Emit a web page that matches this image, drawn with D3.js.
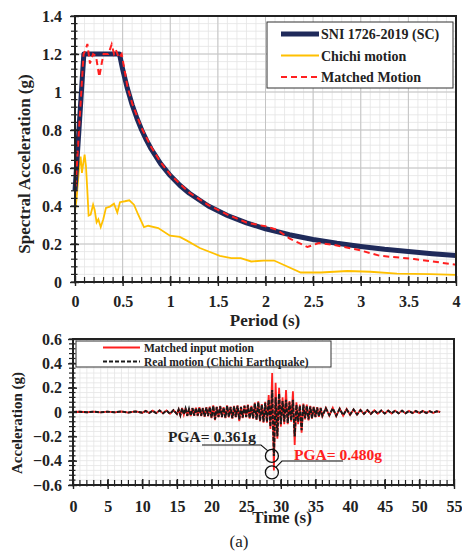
<!DOCTYPE html>
<html>
<head>
<meta charset="utf-8">
<script src="https://cdn.jsdelivr.net/npm/d3@7"></script>
<style>
  body { margin: 0; background: #fff; }
  text { font-family: "Liberation Serif", "Times New Roman", serif; }
</style>
</head>
<body>
<svg id="chart"></svg>
<script>
// ---- response spectra (period in s, Sa in g) ----
const sniPeriod = [0, 0.093, 0.467, 0.5, 0.55, 0.6, 0.65, 0.7, 0.75, 0.8, 0.9, 1.0, 1.1, 1.2, 1.4, 1.6, 1.8, 2.0, 2.25, 2.5, 2.75, 3.0, 3.25, 3.5, 3.75, 4.0];
const sniSa = [0.48, 1.2, 1.2, 1.12, 1.018, 0.933, 0.862, 0.8, 0.747, 0.7, 0.622, 0.56, 0.509, 0.467, 0.4, 0.35, 0.311, 0.28, 0.249, 0.224, 0.204, 0.187, 0.172, 0.16, 0.149, 0.14];

const chichiPeriod = [0, 0.017, 0.045, 0.059, 0.073, 0.087, 0.101, 0.115, 0.129, 0.143, 0.164, 0.19, 0.206, 0.227, 0.245, 0.27, 0.297, 0.325, 0.367, 0.409, 0.444, 0.472, 0.524, 0.57, 0.619, 0.664, 0.724, 0.769, 0.874, 0.997, 1.1, 1.17, 1.31, 1.52, 1.64, 1.74, 1.85, 1.98, 2.09, 2.37, 2.58, 2.86, 3.1, 3.38, 3.73, 4.0];
const chichiSa = [0.372, 0.44, 0.61, 0.66, 0.574, 0.626, 0.67, 0.61, 0.486, 0.349, 0.354, 0.407, 0.38, 0.314, 0.33, 0.289, 0.33, 0.39, 0.397, 0.412, 0.366, 0.42, 0.425, 0.43, 0.407, 0.354, 0.289, 0.296, 0.284, 0.244, 0.237, 0.219, 0.179, 0.138, 0.126, 0.126, 0.108, 0.113, 0.113, 0.05, 0.05, 0.058, 0.054, 0.044, 0.041, 0.037];

const matchedPeriod = [0, 0.03, 0.06, 0.09, 0.11, 0.13, 0.157, 0.19, 0.22, 0.255, 0.28, 0.3, 0.35, 0.385, 0.41, 0.43, 0.46, 0.49, 0.55, 0.6, 0.7, 0.8, 0.9, 1.0, 1.2, 1.4, 1.6, 1.8, 2.0, 2.12, 2.25, 2.44, 2.56, 2.7, 2.97, 3.2, 3.56, 3.74, 4.0];
const matchedSa = [0.45, 0.7, 0.95, 1.2, 1.22, 1.253, 1.15, 1.2, 1.19, 1.08, 1.15, 1.2, 1.2, 1.25, 1.2, 1.22, 1.18, 1.2, 1.03, 0.94, 0.81, 0.71, 0.63, 0.565, 0.47, 0.405, 0.355, 0.313, 0.293, 0.275, 0.23, 0.184, 0.205, 0.197, 0.17, 0.138, 0.121, 0.109, 0.091];

const periodTicks = [0, 0.5, 1, 1.5, 2, 2.5, 3, 3.5, 4];
const saTicks = [0, 0.2, 0.4, 0.6, 0.8, 1, 1.2, 1.4];

// ---- acceleration time histories (time in s, acc in g) ----
const timeSec = [0, 1, 2, 3, 4, 5, 6, 7, 8, 9, 10,
  10.5, 11, 11.5, 12, 12.5, 13, 13.5, 14, 14.5, 15,
  15.25, 15.5, 15.75, 16, 16.25, 16.5, 16.75, 17, 17.25, 17.5, 17.75, 18, 18.25, 18.5, 18.75, 19, 19.25, 19.5, 19.75, 20,
  20.25, 20.5, 20.75, 21, 21.25, 21.5, 21.75, 22, 22.25, 22.5, 22.75, 23, 23.25, 23.5, 23.75, 24, 24.25, 24.5, 24.75, 25, 25.25, 25.5, 25.75, 26,
  26.25, 26.5, 26.75, 27, 27.25, 27.5, 27.75, 28, 28.25,
  28.5, 28.75, 29, 29.25, 29.5, 29.75, 30,
  30.25, 30.5, 30.75, 31, 31.25, 31.5, 31.75, 32, 32.25, 32.5, 32.75, 33, 33.25, 33.5, 33.75, 34, 34.25, 34.5, 34.75, 35, 35.25, 35.5, 35.75, 36,
  36.5, 37, 37.5, 38, 38.5, 39, 39.5, 40, 40.5, 41, 41.5, 42, 42.5, 43, 43.5, 44, 44.5, 45, 45.5, 46, 46.5, 47, 47.5, 48, 48.5, 49, 49.5, 50, 50.5, 51, 51.5, 52, 52.5, 53];

const realAcc = [0, 0.002, -0.002, 0.002, -0.003, 0.003, -0.003, 0.004, -0.004, 0.005, -0.005,
  0.008, -0.007, 0.01, -0.009, 0.012, -0.01, 0.012, -0.014, 0.015, -0.015,
  0.02, -0.025, 0.03, -0.02, 0.028, -0.03, 0.025, -0.03, 0.03, -0.028, 0.032, -0.03, 0.035, -0.03, 0.03, -0.035, 0.035, -0.032, 0.04, -0.045,
  0.05, -0.06, 0.04, -0.04, 0.045, -0.04, 0.035, -0.045, 0.05, -0.04, 0.04, -0.05, 0.045, -0.04, 0.05, -0.06, 0.04, -0.045, 0.05, -0.04, 0.055, -0.05, 0.045, -0.05,
  0.07, -0.06, 0.08, -0.07, 0.06, -0.08, 0.075, -0.08, 0.1,
  -0.12, 0.18, -0.361, 0.12, -0.2, 0.15, -0.1,
  0.09, -0.08, 0.1, -0.09, 0.08, -0.07, 0.1, -0.2, 0.06, -0.08, 0.05, -0.15, 0.06, -0.05, 0.05, -0.06, 0.045, -0.05, 0.04, -0.04, 0.035, -0.035, 0.03, -0.03,
  0.03, -0.025, 0.03, -0.03, 0.025, -0.025, 0.02, -0.02, 0.02, -0.02, 0.015, -0.015, 0.015, -0.015, 0.012, -0.012, 0.012, -0.012, 0.01, -0.01, 0.01, -0.01, 0.01, -0.01, 0.008, -0.008, 0.008, -0.008, 0.008, -0.008, 0.006, -0.006, 0.005, 0];

const matchedAcc = [0, 0.002, -0.002, 0.003, -0.003, 0.003, -0.003, 0.004, -0.005, 0.005, -0.006,
  0.009, -0.008, 0.011, -0.01, 0.013, -0.011, 0.013, -0.015, 0.016, -0.017,
  0.022, -0.028, 0.033, -0.022, 0.031, -0.033, 0.028, -0.033, 0.033, -0.031, 0.035, -0.033, 0.039, -0.033, 0.033, -0.039, 0.039, -0.035, 0.044, -0.05,
  0.055, -0.066, 0.044, -0.044, 0.05, -0.044, 0.039, -0.05, 0.055, -0.044, 0.044, -0.055, 0.05, -0.044, 0.055, -0.075, 0.044, -0.05, 0.055, -0.044, 0.06, -0.055, 0.05, -0.055,
  0.077, -0.066, 0.088, -0.077, 0.066, -0.088, 0.083, -0.088, 0.14,
  -0.14, 0.32, -0.48, 0.24, -0.22, 0.2, -0.12,
  0.12, -0.1, 0.18, -0.1, 0.09, -0.08, 0.17, -0.27, 0.08, -0.1, 0.06, -0.17, 0.07, -0.06, 0.06, -0.07, 0.05, -0.055, 0.045, -0.045, 0.04, -0.04, 0.035, -0.035,
  0.035, -0.03, 0.035, -0.035, 0.03, -0.03, 0.025, -0.025, 0.022, -0.022, 0.018, -0.018, 0.016, -0.016, 0.014, -0.014, 0.013, -0.013, 0.012, -0.012, 0.011, -0.011, 0.011, -0.011, 0.01, -0.01, 0.009, -0.009, 0.009, -0.009, 0.008, -0.008, 0.006, 0];

const timeTicks = [0, 5, 10, 15, 20, 25, 30, 35, 40, 45, 50, 55];
const accTicks = [0.6, 0.4, 0.2, 0, -0.2, -0.4, -0.6];

const navy = '#1f2a5a';
const gold = '#ffc000';
const red = '#ff2020';

const svg = d3.select('#chart')
    .attr('width', 462)
    .attr('height', 553);

svg.append('rect').attr('width', 462).attr('height', 553).attr('fill', '#fff');

// light grid behind one panel
function drawFrame(g, x, y, xMinor, yMinor, xMajor, yMajor) {
    const [x0, x1] = x.range();
    const [y0, y1] = y.range();

    g.append('g').selectAll('line')
        .data(xMinor).join('line')
        .attr('x1', d => x(d)).attr('x2', d => x(d))
        .attr('y1', y0).attr('y2', y1)
        .attr('stroke', '#e4e4e4').attr('stroke-width', 0.8);
    g.append('g').selectAll('line')
        .data(yMinor).join('line')
        .attr('y1', d => y(d)).attr('y2', d => y(d))
        .attr('x1', x0).attr('x2', x1)
        .attr('stroke', '#e4e4e4').attr('stroke-width', 0.8);
    g.append('g').selectAll('line')
        .data(xMajor).join('line')
        .attr('x1', d => x(d)).attr('x2', d => x(d))
        .attr('y1', y0).attr('y2', y1)
        .attr('stroke', '#c4c4c4').attr('stroke-width', 1);
    g.append('g').selectAll('line')
        .data(yMajor).join('line')
        .attr('y1', d => y(d)).attr('y2', d => y(d))
        .attr('x1', x0).attr('x2', x1)
        .attr('stroke', '#c4c4c4').attr('stroke-width', 1);
}

// frame, cross ticks and tick labels
function drawAxes(g, x, y, xMinor, yMinor, xMajor, yMajor, xPad, yPad) {
    const [x0, x1] = x.range();
    const [y0, y1] = y.range();

    g.append('rect')
        .attr('x', x0).attr('y', y1)
        .attr('width', x1 - x0).attr('height', y0 - y1)
        .attr('fill', 'none').attr('stroke', '#222').attr('stroke-width', 2);

    g.append('g').selectAll('line')
        .data(xMinor).join('line')
        .attr('x1', d => x(d)).attr('x2', d => x(d))
        .attr('y1', y0 - 5).attr('y2', y0 + 1.5)
        .attr('stroke', '#222').attr('stroke-width', 1.2);
    g.append('g').selectAll('line')
        .data(yMinor).join('line')
        .attr('y1', d => y(d)).attr('y2', d => y(d))
        .attr('x1', x0 - 4).attr('x2', x0 + 2.5)
        .attr('stroke', '#222').attr('stroke-width', 1.2);

    const fmt = d3.format('~g');
    const xAxis = d3.axisBottom(x).tickValues(xMajor).tickSize(0).tickPadding(xPad).tickFormat(fmt);
    const yAxis = d3.axisLeft(y).tickValues(yMajor).tickSize(0).tickPadding(yPad).tickFormat(fmt);

    const xg = g.append('g').attr('transform', `translate(0, ${y0})`).call(xAxis);
    const yg = g.append('g').attr('transform', `translate(${x0}, 0)`).call(yAxis);

    [xg, yg].forEach(a => {
        a.select('.domain').remove();
        a.selectAll('text')
            .style('font-family', '"Liberation Serif", "Times New Roman", serif')
            .style('font-weight', 'bold')
            .style('font-size', '16px')
            .attr('fill', '#222');
    });

    xg.selectAll('.tick').append('line')
        .attr('y1', -6).attr('y2', 4).attr('stroke', '#222').attr('stroke-width', 1.4);
    yg.selectAll('.tick').append('line')
        .attr('x1', -5).attr('x2', 4).attr('stroke', '#222').attr('stroke-width', 1.4);
}

// ================= upper panel: response spectra =================
const specPanel = svg.append('g');
const xPeriod = d3.scaleLinear().domain([0, 4]).range([75, 456]);
const ySa = d3.scaleLinear().domain([0, 1.4]).range([282, 16]);

const pMinor = d3.range(0, 4.001, 0.1);
const sMinor = d3.range(0, 1.401, 0.04);

drawFrame(specPanel, xPeriod, ySa, pMinor, sMinor, periodTicks, saTicks);

const specLine = (px, py) => d3.line()
    .x((d, i) => xPeriod(px[i]))
    .y((d, i) => ySa(py[i]))(py);

specPanel.append('path')
    .attr('d', specLine(chichiPeriod, chichiSa))
    .attr('fill', 'none').attr('stroke', gold).attr('stroke-width', 1.8);

specPanel.append('path')
    .attr('d', specLine(sniPeriod, sniSa))
    .attr('fill', 'none').attr('stroke', navy).attr('stroke-width', 5)
    .attr('stroke-linejoin', 'round');

specPanel.append('path')
    .attr('d', specLine(matchedPeriod, matchedSa))
    .attr('fill', 'none').attr('stroke', red).attr('stroke-width', 2)
    .attr('stroke-dasharray', '6,4');

drawAxes(specPanel, xPeriod, ySa, pMinor, sMinor, periodTicks, saTicks, 13.5, 13);

specPanel.append('text')
    .attr('x', 265).attr('y', 326)
    .attr('text-anchor', 'middle')
    .style('font-weight', 'bold').style('font-size', '17px')
    .attr('fill', '#222')
    .text('Period (s)');

specPanel.append('text')
    .attr('transform', 'translate(30, 164) rotate(-90)')
    .attr('text-anchor', 'middle')
    .style('font-weight', 'bold').style('font-size', '17px')
    .attr('fill', '#222')
    .text('Spectral Acceleration (g)');

const specLegend = [
    { label: 'SNI 1726-2019 (SC)', color: navy, width: 5, dash: null },
    { label: 'Chichi motion', color: gold, width: 1.8, dash: null },
    { label: 'Matched Motion', color: red, width: 2, dash: '6,4' }
];
const lg = specPanel.append('g');
lg.append('rect')
    .attr('x', 267).attr('y', 22).attr('width', 186).attr('height', 66)
    .attr('fill', '#fff').attr('stroke', '#333').attr('stroke-width', 1);
specLegend.forEach((d, i) => {
    const yy = 34 + i * 21.5;
    lg.append('line')
        .attr('x1', 281).attr('x2', 319).attr('y1', yy).attr('y2', yy)
        .attr('stroke', d.color).attr('stroke-width', d.width)
        .attr('stroke-dasharray', d.dash);
    lg.append('text')
        .attr('x', 321).attr('y', yy + 5)
        .style('font-weight', 'bold').style('font-size', '14px')
        .attr('fill', '#222')
        .text(d.label);
});

// ================= lower panel: time histories =================
const accPanel = svg.append('g');
const xTime = d3.scaleLinear().domain([0, 55]).range([73, 454]);
const yAcc = d3.scaleLinear().domain([-0.6, 0.6]).range([485, 339]);

const tMinor = d3.range(0, 55.001, 1);
const aMinor = d3.range(-0.6, 0.601, 0.04);

drawFrame(accPanel, xTime, yAcc, tMinor, aMinor, [], []);

const accLine = vals => d3.line()
    .x((d, i) => xTime(timeSec[i]))
    .y(d => yAcc(d))(vals);

accPanel.append('path')
    .attr('d', accLine(matchedAcc))
    .attr('fill', 'none').attr('stroke', red).attr('stroke-width', 1.8);

accPanel.append('path')
    .attr('d', accLine(realAcc))
    .attr('fill', 'none').attr('stroke', '#1a1a1a').attr('stroke-width', 2)
    .attr('stroke-dasharray', '4,1.5');

drawAxes(accPanel, xTime, yAcc, tMinor, aMinor, timeTicks, accTicks, 16, 11);

// PGA annotations
const iReal = d3.minIndex(realAcc);
const iMatch = d3.minIndex(matchedAcc);
const cReal = [xTime(timeSec[iReal]) - 2, yAcc(realAcc[iReal])];
const cMatch = [xTime(timeSec[iMatch]) - 2, yAcc(matchedAcc[iMatch]) + 2];
const r = 6.5;

accPanel.append('circle').attr('cx', cReal[0]).attr('cy', cReal[1])
    .attr('r', r).attr('fill', 'none').attr('stroke', '#111').attr('stroke-width', 1.3);
accPanel.append('circle').attr('cx', cMatch[0]).attr('cy', cMatch[1])
    .attr('r', r).attr('fill', 'none').attr('stroke', '#111').attr('stroke-width', 1.3);

accPanel.append('polyline')
    .attr('points', `202,445 261,445 ${cReal[0] - 4},${cReal[1] - 5}`)
    .attr('fill', 'none').attr('stroke', '#111').attr('stroke-width', 1.1);
accPanel.append('polyline')
    .attr('points', `343,461 282,461 ${cMatch[0] + 4},${cMatch[1] - 5}`)
    .attr('fill', 'none').attr('stroke', '#111').attr('stroke-width', 1.1);

accPanel.append('text')
    .attr('x', 168).attr('y', 442)
    .style('font-weight', 'bold').style('font-size', '15.5px')
    .attr('fill', '#222')
    .text(`PGA= ${(-realAcc[iReal]).toFixed(3)}g`);
accPanel.append('text')
    .attr('x', 294).attr('y', 460)
    .style('font-weight', 'bold').style('font-size', '15.5px')
    .attr('fill', red)
    .text(`PGA= ${(-matchedAcc[iMatch]).toFixed(3)}g`);

const accLegend = [
    { label: 'Matched input motion', color: red, dash: null },
    { label: 'Real motion (Chichi Earthquake)', color: '#1a1a1a', dash: '4,2' }
];
const lb = accPanel.append('g');
lb.append('rect')
    .attr('x', 76).attr('y', 341).attr('width', 255).attr('height', 26)
    .attr('fill', '#fff').attr('stroke', '#333').attr('stroke-width', 1);
accLegend.forEach((d, i) => {
    const yy = 347.5 + i * 14;
    lb.append('line')
        .attr('x1', 103).attr('x2', 140).attr('y1', yy).attr('y2', yy)
        .attr('stroke', d.color).attr('stroke-width', 2)
        .attr('stroke-dasharray', d.dash);
    lb.append('text')
        .attr('x', 144).attr('y', yy + 4)
        .style('font-weight', 'bold').style('font-size', '11.5px')
        .attr('fill', '#222')
        .text(d.label);
});

accPanel.append('text')
    .attr('x', 282).attr('y', 523)
    .attr('text-anchor', 'middle')
    .style('font-weight', 'bold').style('font-size', '17px')
    .attr('fill', '#222')
    .text('Time (s)');

accPanel.append('text')
    .attr('transform', 'translate(22, 423) rotate(-90)')
    .attr('text-anchor', 'middle')
    .style('font-weight', 'bold').style('font-size', '15px')
    .attr('fill', '#222')
    .text('Acceleration (g)');

svg.append('text')
    .attr('x', 239).attr('y', 547)
    .attr('text-anchor', 'middle')
    .style('font-size', '17px')
    .attr('fill', '#222')
    .text('(a)');
</script>
</body>
</html>
